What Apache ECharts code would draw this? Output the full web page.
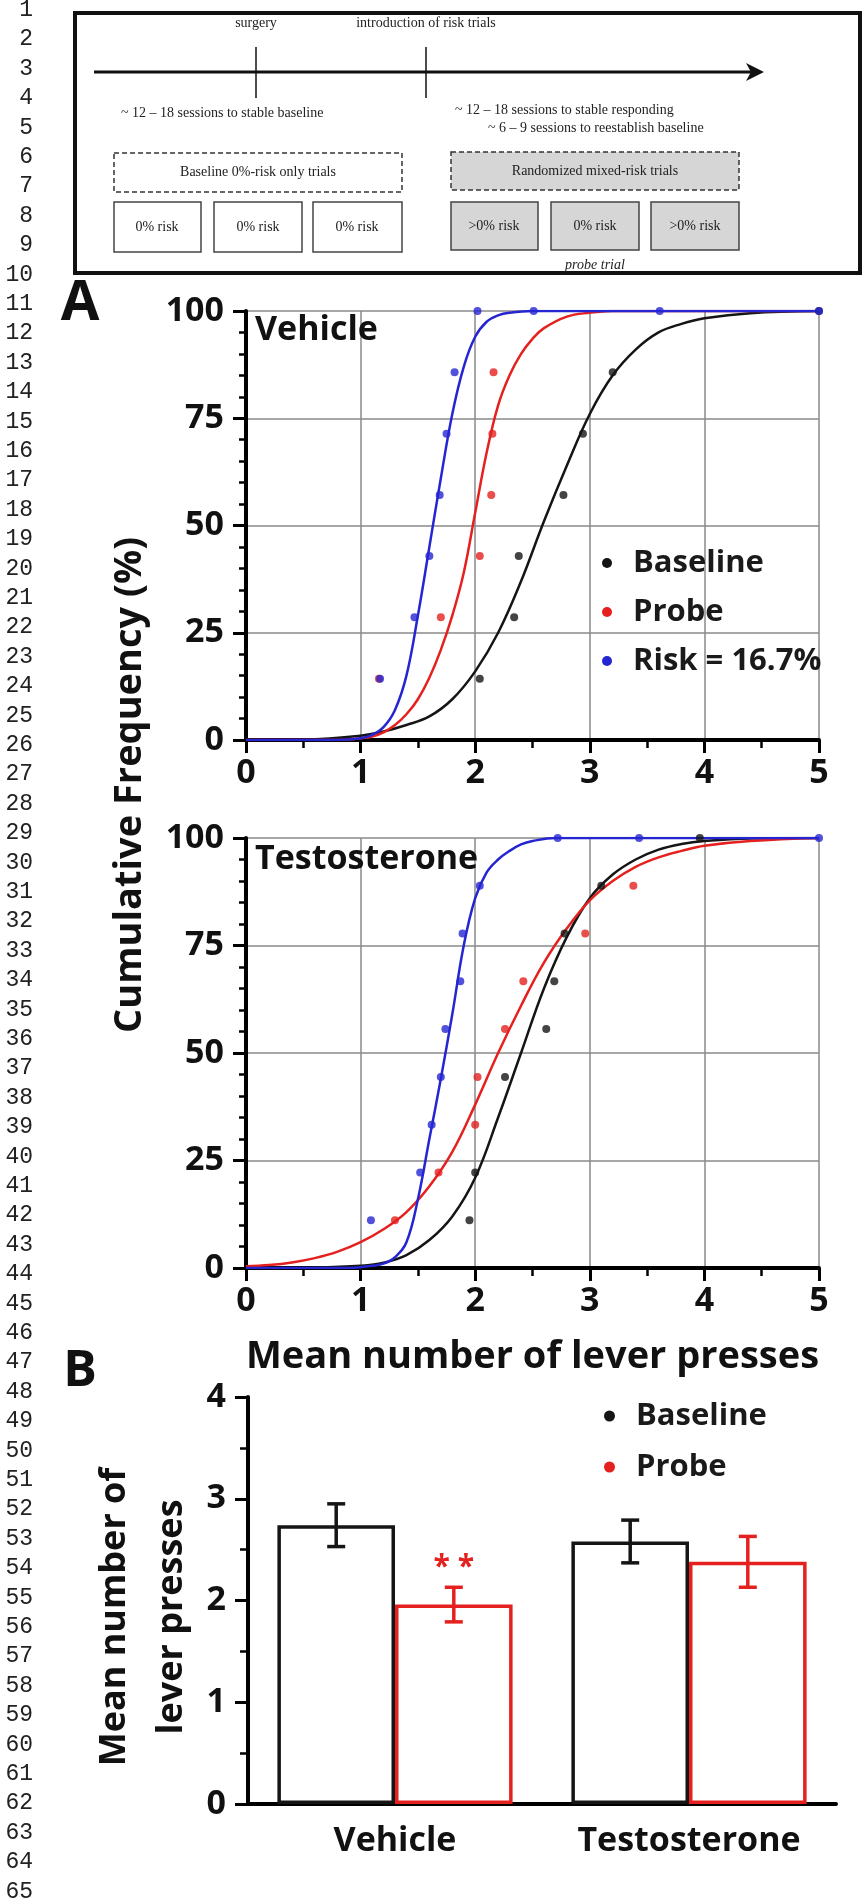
<!DOCTYPE html>
<html>
<head>
<meta charset="utf-8">
<script src="https://cdn.jsdelivr.net/npm/echarts@6/dist/echarts.min.js"></script>
<style>
  html, body { margin: 0; padding: 0; background: #fff; }
  #chart { width: 865px; height: 1903px; }
</style>
</head>
<body>
<div id="chart"></div>
<script>
// ---- data ----
// panel A, vehicle: cumulative frequency points [mean presses, %]
const vehBaselinePts = [[2.04, 14.3], [2.34, 28.6], [2.38, 42.9], [2.77, 57.1], [2.94, 71.4], [3.20, 85.7], [5.0, 100]]
const vehProbePts = [[1.16, 14.3], [1.70, 28.6], [2.04, 42.9], [2.14, 57.1], [2.15, 71.4], [2.16, 85.7]]
const vehRiskPts = [[1.17, 14.3], [1.47, 28.6], [1.60, 42.9], [1.69, 57.1], [1.75, 71.4], [1.82, 85.7], [2.02, 100], [2.51, 100], [3.61, 100], [5.0, 100]]
// fitted curves
const vehBaselineFit = [[0, 0], [0.5, 0.1], [1.0, 1], [1.2, 2], [1.4, 3.5], [1.6, 5.5], [1.8, 9.5], [2.0, 16], [2.2, 25], [2.4, 37], [2.6, 51], [2.8, 64], [3.0, 76], [3.2, 85], [3.4, 91], [3.6, 95], [3.8, 97], [4.0, 98.3], [4.4, 99.5], [5, 100]]
const vehProbeFit = [[0, 0], [0.8, 0], [1.0, 0.4], [1.1, 0.8], [1.2, 1.8], [1.3, 3.5], [1.4, 6], [1.5, 9.5], [1.6, 14.5], [1.7, 21], [1.8, 29], [1.9, 39], [2.0, 53], [2.1, 67], [2.2, 78], [2.3, 85], [2.4, 90], [2.5, 93.5], [2.6, 96], [2.8, 98.7], [3.0, 99.6], [3.2, 100], [5, 100]]
const vehRiskFit = [[0, 0], [0.8, 0], [1.0, 0.4], [1.1, 1.2], [1.2, 3], [1.3, 7], [1.4, 15], [1.5, 29], [1.6, 45], [1.7, 61], [1.8, 76], [1.9, 87], [2.0, 94], [2.1, 97.5], [2.2, 99], [2.3, 99.6], [2.5, 100], [5, 100]]

// panel A, testosterone
const tesBaselinePts = [[1.95, 11.1], [2.0, 22.2], [2.26, 44.4], [2.62, 55.6], [2.69, 66.7], [2.78, 77.8], [3.10, 88.9], [3.96, 100]]
const tesProbePts = [[1.30, 11.1], [1.68, 22.2], [2.0, 33.3], [2.02, 44.4], [2.26, 55.6], [2.42, 66.7], [2.96, 77.8], [3.38, 88.9]]
const tesRiskPts = [[1.09, 11.1], [1.52, 22.2], [1.62, 33.3], [1.70, 44.4], [1.74, 55.6], [1.87, 66.7], [1.89, 77.8], [2.04, 88.9], [2.72, 100], [3.43, 100], [5.0, 100]]
const tesBaselineFit = [[0, 0], [0.6, 0.1], [1.0, 0.5], [1.2, 1.2], [1.4, 3], [1.6, 6.5], [1.8, 12], [2.0, 21], [2.2, 35], [2.4, 50], [2.6, 65], [2.8, 77], [3.0, 86], [3.2, 91.5], [3.4, 95], [3.6, 97.3], [3.8, 98.6], [4.0, 99.3], [4.4, 99.9], [5, 100]]
const tesProbeFit = [[0, 0.4], [0.2, 0.7], [0.4, 1.3], [0.6, 2.3], [0.8, 3.8], [1.0, 6], [1.2, 9], [1.4, 13], [1.6, 19], [1.8, 27], [2.0, 38], [2.2, 50], [2.4, 61], [2.6, 71], [2.8, 79], [3.0, 85.5], [3.2, 90], [3.4, 93.3], [3.6, 95.5], [3.8, 97], [4.0, 98.2], [4.4, 99.3], [5, 100]]
const tesRiskFit = [[0, 0], [0.8, 0], [1.0, 0.2], [1.1, 0.5], [1.2, 1], [1.3, 2.5], [1.4, 6], [1.5, 16], [1.6, 30], [1.7, 44], [1.8, 59], [1.9, 75], [2.0, 86], [2.1, 92], [2.2, 95], [2.3, 97], [2.4, 98.5], [2.5, 99.3], [2.7, 100], [5, 100]]

// panel B
const barGroups = ['Vehicle', 'Testosterone']
const barBaseline = [2.74, 2.58]
const barProbe = [1.96, 2.38]
const semBaseline = [0.21, 0.21]
const semProbe = [0.17, 0.25]
const probeMarks = ['* *', '']

// ---- styling ----
const FONT = '"Open Sans", "Noto Sans", sans-serif'
const SERIF = '"Liberation Serif", "DejaVu Serif", serif'
const BLACK = '#151515'
const RED = '#e4211f'
const BLUE = '#2525d2'

const labelStyle = { fontFamily: FONT, fontSize: 34, fontWeight: 'bold', color: '#111' }

function curveAxisX(gridIndex, extra) {
  return Object.assign({
    type: 'value', gridIndex, min: 0, max: 5, interval: 1,
    axisLine: { onZero: false, lineStyle: { color: '#000', width: 4 } },
    axisTick: { length: 13, lineStyle: { color: '#000', width: 3 } },
    minorTick: { show: true, splitNumber: 2, length: 8, lineStyle: { color: '#000', width: 2.5 } },
    splitLine: { show: true, lineStyle: { color: '#8a8a8a', width: 1.5 } },
    axisLabel: Object.assign({ margin: 16 }, labelStyle),
  }, extra || {})
}

function curveAxisY(gridIndex) {
  return {
    type: 'value', gridIndex, min: 0, max: 100, interval: 25,
    axisLine: { lineStyle: { color: '#000', width: 4 } },
    axisTick: { length: 13, lineStyle: { color: '#000', width: 3 } },
    minorTick: { show: true, splitNumber: 5, length: 7, lineStyle: { color: '#000', width: 2.5 } },
    splitLine: { show: true, lineStyle: { color: '#8a8a8a', width: 1.5 } },
    axisLabel: Object.assign({ margin: 22 }, labelStyle),
  }
}

function fitLine(name, data, color, idx) {
  return {
    name, type: 'line', xAxisIndex: idx, yAxisIndex: idx, data,
    smooth: 0.4, showSymbol: false, silent: true,
    lineStyle: { color, width: 2.5 }, itemStyle: { color }, z: 3,
  }
}

function points(name, data, color, idx) {
  return {
    name, type: 'scatter', xAxisIndex: idx, yAxisIndex: idx, data,
    symbolSize: 8, itemStyle: { color }, silent: true, z: 4,
  }
}

function errorBars(name, means, sems, side, color) {
  return {
    name, type: 'custom', xAxisIndex: 2, yAxisIndex: 2, z: 5, silent: true,
    data: means.map((m, i) => [i, m - sems[i], m + sems[i]]),
    encode: { x: 0, y: [1, 2] },
    renderItem: (params, api) => {
      const band = api.size([1, 0])[0]
      const top = api.coord([api.value(0), api.value(2)])
      const bot = api.coord([api.value(0), api.value(1)])
      const x = top[0] + band * side
      const cap = 9
      const style = { stroke: color, lineWidth: 3.5 }
      return {
        type: 'group',
        children: [
          { type: 'line', shape: { x1: x, y1: top[1], x2: x, y2: bot[1] }, style },
          { type: 'line', shape: { x1: x - cap, y1: top[1], x2: x + cap, y2: top[1] }, style },
          { type: 'line', shape: { x1: x - cap, y1: bot[1], x2: x + cap, y2: bot[1] }, style },
        ],
      }
    },
  }
}

function gText(x, y, text, font, extra) {
  return {
    type: 'text', x, y, silent: true,
    style: Object.assign({
      text, font, fill: '#222',
      align: 'center', verticalAlign: 'middle', textAlign: 'center', textVerticalAlign: 'middle',
    }, extra || {}),
  }
}

function gRect(x, y, w, h, style) {
  return { type: 'rect', silent: true, shape: { x, y, width: w, height: h }, style }
}

function gLine(x1, y1, x2, y2, width) {
  return { type: 'line', silent: true, shape: { x1, y1, x2, y2 }, style: { stroke: '#111', lineWidth: width } }
}

// schematic at the top of the figure
const small = '14px ' + SERIF
const boxPlain = { fill: '#fff', stroke: '#444', lineWidth: 1.5 }
const boxGray = { fill: '#d6d6d6', stroke: '#444', lineWidth: 1.5 }
const schematic = [
  gRect(75, 13, 785, 260, { fill: 'none', stroke: '#111', lineWidth: 4 }),
  gLine(94, 72, 756, 72, 3),
  { type: 'polygon', silent: true, shape: { points: [[746, 63], [764, 72], [746, 81], [751, 72]] }, style: { fill: '#111' } },
  gLine(256, 47, 256, 98, 1.5),
  gLine(426, 47, 426, 98, 1.5),
  gText(256, 23, 'surgery', small),
  gText(426, 23, 'introduction of risk trials', small),
  gText(121, 113, '~ 12 – 18 sessions to stable baseline', small, { align: 'left', textAlign: 'left' }),
  gText(455, 110, '~ 12 – 18 sessions to stable responding', small, { align: 'left', textAlign: 'left' }),
  gText(488, 128, '~ 6 – 9 sessions to reestablish baseline', small, { align: 'left', textAlign: 'left' }),
  gRect(114, 153, 288, 39, { fill: 'none', stroke: '#333', lineWidth: 1.5, lineDash: [5, 3] }),
  gText(258, 172, 'Baseline 0%-risk only trials', small),
  gRect(451, 152, 288, 38, { fill: '#d6d6d6', stroke: '#333', lineWidth: 1.5, lineDash: [5, 3] }),
  gText(595, 171, 'Randomized mixed-risk trials', small),
  gRect(114, 202, 87, 50, boxPlain), gText(157, 227, '0% risk', small),
  gRect(214, 202, 88, 50, boxPlain), gText(258, 227, '0% risk', small),
  gRect(313, 202, 89, 50, boxPlain), gText(357, 227, '0% risk', small),
  gRect(451, 202, 87, 48, boxGray), gText(494, 226, '>0% risk', small),
  gRect(551, 202, 88, 48, boxGray), gText(595, 226, '0% risk', small),
  gRect(651, 202, 88, 48, boxGray), gText(695, 226, '>0% risk', small),
  gText(595, 265, 'probe trial', 'italic ' + small),
]

// manuscript line numbers down the left margin
const lineNumbers = []
for (let n = 1; n <= 65; n++) {
  lineNumbers.push(gText(33, 10 + (n - 1) * 29.4, String(n), '23px "Liberation Mono", "DejaVu Sans Mono", monospace',
    { fill: '#222', align: 'right', textAlign: 'right' }))
}

const panelText = [
  gText(80, 304, 'A', 'bold 56px ' + FONT, { fill: '#111' }),
  gText(80, 1372, 'B', 'bold 50px ' + FONT, { fill: '#111' }),
  Object.assign(gText(130, 785, 'Cumulative Frequency (%)', 'bold 38px ' + FONT, { fill: '#111' }), { rotation: Math.PI / 2 }),
  Object.assign(gText(143, 1617, 'Mean number of\nlever presses', 'bold 36px ' + FONT, { fill: '#111', lineHeight: 57 }), { rotation: Math.PI / 2 }),
]

const legendText = { fontFamily: FONT, fontSize: 31, fontWeight: 'bold', color: '#1a1a1a', lineHeight: 36, padding: [0, 0, 0, 16] }

const option = {
  animation: false,
  backgroundColor: '#fff',
  title: [
    { text: 'Vehicle', left: 255, top: 313, padding: 0, textStyle: labelStyle },
    { text: 'Testosterone', left: 255, top: 842, padding: 0, textStyle: labelStyle },
  ],
  legend: [
    {
      data: ['Baseline', 'Probe', 'Risk = 16.7%'], orient: 'vertical', left: 602, top: 545,
      icon: 'circle', itemWidth: 10, itemHeight: 10, itemGap: 13, padding: 0,
      selectedMode: false, textStyle: legendText,
    },
    {
      data: ['Baseline', 'Probe'], orient: 'vertical', left: 604, top: 1398,
      icon: 'circle', itemWidth: 11, itemHeight: 11, itemGap: 15, padding: 0,
      selectedMode: false, textStyle: legendText,
    },
  ],
  grid: [
    { left: 246, top: 311, width: 573, height: 429, outerBoundsMode: 'none' },
    { left: 246, top: 838, width: 573, height: 430, outerBoundsMode: 'none' },
    { left: 248, top: 1397, width: 588, height: 407, outerBoundsMode: 'none' },
  ],
  xAxis: [
    curveAxisX(0),
    curveAxisX(1, {
      name: 'Mean number of lever presses', nameLocation: 'middle', nameGap: 70,
      nameTextStyle: { fontFamily: FONT, fontSize: 38, fontWeight: 'bold', color: '#111' },
    }),
    {
      type: 'category', gridIndex: 2, data: barGroups,
      axisLine: { lineStyle: { color: '#000', width: 4 } },
      axisTick: { alignWithLabel: true, length: 14, lineStyle: { color: '#000', width: 3 } },
      axisLabel: Object.assign({ margin: 20 }, labelStyle),
    },
  ],
  yAxis: [
    curveAxisY(0),
    curveAxisY(1),
    {
      type: 'value', gridIndex: 2, min: 0, max: 4, interval: 1,
      axisLine: { show: true, lineStyle: { color: '#000', width: 4 } },
      axisTick: { show: true, length: 13, lineStyle: { color: '#000', width: 3 } },
      minorTick: { show: true, splitNumber: 2, length: 8, lineStyle: { color: '#000', width: 2.5 } },
      splitLine: { show: false },
      axisLabel: Object.assign({ margin: 22 }, labelStyle),
    },
  ],
  series: [
    fitLine('Baseline', vehBaselineFit, BLACK, 0),
    fitLine('Probe', vehProbeFit, RED, 0),
    fitLine('Risk = 16.7%', vehRiskFit, BLUE, 0),
    points('Baseline', vehBaselinePts, BLACK, 0),
    points('Probe', vehProbePts, RED, 0),
    points('Risk = 16.7%', vehRiskPts, BLUE, 0),
    fitLine('Baseline', tesBaselineFit, BLACK, 1),
    fitLine('Probe', tesProbeFit, RED, 1),
    fitLine('Risk = 16.7%', tesRiskFit, BLUE, 1),
    points('Baseline', tesBaselinePts, BLACK, 1),
    points('Probe', tesProbePts, RED, 1),
    points('Risk = 16.7%', tesRiskPts, BLUE, 1),
    {
      name: 'Baseline', type: 'bar', xAxisIndex: 2, yAxisIndex: 2, data: barBaseline,
      barWidth: '40%', barGap: '0%', silent: true,
      itemStyle: { color: '#fff', borderColor: BLACK, borderWidth: 3.5 },
    },
    {
      name: 'Probe', type: 'bar', xAxisIndex: 2, yAxisIndex: 2, data: barProbe,
      barWidth: '40%', barGap: '0%', silent: true,
      itemStyle: { color: '#fff', borderColor: RED, borderWidth: 3.5 },
      label: {
        show: true, position: 'top', distance: 22,
        formatter: (p) => probeMarks[p.dataIndex],
        fontFamily: FONT, fontSize: 30, fontWeight: 'bold', color: RED,
      },
    },
    errorBars('Baseline SEM', barBaseline, semBaseline, -0.2, BLACK),
    errorBars('Probe SEM', barProbe, semProbe, 0.2, RED),
  ],
  graphic: schematic.concat(lineNumbers, panelText),
}

const myChart = echarts.init(document.getElementById('chart'), null, { renderer: 'canvas' })
myChart.setOption(option)
</script>
</body>
</html>
